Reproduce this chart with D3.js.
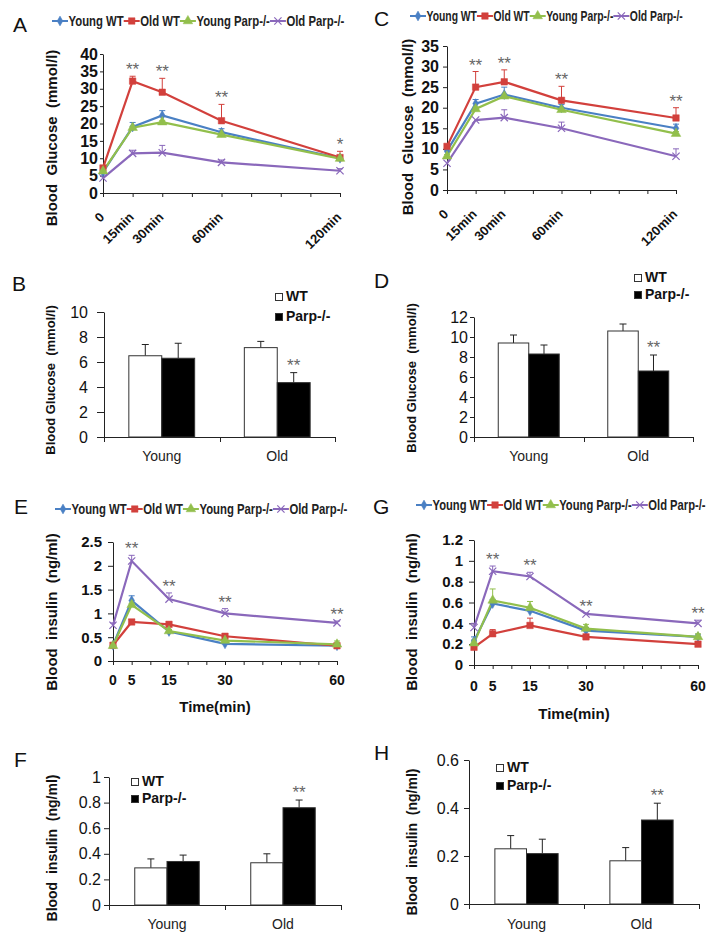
<!DOCTYPE html>
<html><head><meta charset="utf-8">
<script src="https://cdn.jsdelivr.net/npm/d3@7"></script>
<style>
body{margin:0;background:#fff}
svg{display:block}
text{font-family:Arial,"Liberation Sans",sans-serif}
</style>
</head><body>
<svg id="c" width="722" height="945"></svg>
<script>
// ---------------- DATA ----------------
const seriesNames = ["Young WT", "Old WT", "Young Parp-/-", "Old Parp-/-"];
const glucoseTimes = [0, 15, 30, 60, 120];
const glucoseTimeLabels = ["0", "15min", "30min", "60min", "120min"];
const insulinTimes = [0, 5, 15, 30, 60];
const insulinTimeLabels = ["0", "5", "15", "30", "60"];

// Panel A (glucose, time course)
const ticksA = [0, 5, 10, 15, 20, 25, 30, 35, 40];
const aYoungWT = [6.0, 19.0, 22.3, 17.5, 10.0];
const aYoungWTErr = [0, 1.3, 1.4, 1.0, 0.5];
const aOldWT = [7.2, 32.2, 29.0, 20.8, 10.2];
const aOldWTErr = [0, 1.4, 4.0, 4.7, 1.8];
const aYoungParp = [6.3, 18.8, 20.4, 16.8, 9.9];
const aYoungParpErr = [0, 0.4, 0.4, 0.4, 0.4];
const aOldParp = [4.3, 11.4, 11.6, 8.8, 6.4];
const aOldParpErr = [0, 0.9, 2.1, 0.7, 0.6];
const starsA = ["", "**", "**", "**", "*"];

// Panel C (glucose, time course)
const ticksC = [0, 5, 10, 15, 20, 25, 30, 35];
const cYoungWT = [9.5, 21.0, 23.2, 20.0, 15.0];
const cYoungWTErr = [0.5, 1.0, 1.8, 0.8, 1.0];
const cOldWT = [10.6, 25.0, 26.3, 21.8, 17.5];
const cOldWTErr = [0, 3.8, 2.9, 3.4, 2.5];
const cYoungParp = [8.2, 19.7, 22.8, 19.5, 13.7];
const cYoungParpErr = [0.4, 0.5, 0.5, 0.5, 0.5];
const cOldParp = [6.5, 17.0, 17.6, 15.0, 8.2];
const cOldParpErr = [0, 0, 1.9, 1.5, 1.8];
const starsC = ["", "**", "**", "**", "**"];

// Panel E (insulin, time course)
const ticksE = [0, 0.5, 1, 1.5, 2, 2.5];
const eYoungWT = [0.33, 1.27, 0.62, 0.36, 0.32];
const eYoungWTErr = [0, 0.10, 0.03, 0.03, 0.03];
const eOldWT = [0.33, 0.82, 0.77, 0.52, 0.32];
const eOldWTErr = [0.03, 0.05, 0.05, 0.05, 0.03];
const eYoungParp = [0.32, 1.18, 0.63, 0.43, 0.35];
const eYoungParpErr = [0, 0.03, 0.03, 0.03, 0.07];
const eOldParp = [0.75, 2.10, 1.30, 1.00, 0.80];
const eOldParpErr = [0.05, 0.12, 0.13, 0.10, 0.04];
const starsE = ["", "**", "**", "**", "**"];

// Panel G (insulin, time course)
const ticksG = [0, 0.2, 0.4, 0.6, 0.8, 1, 1.2];
const gYoungWT = [0.23, 0.59, 0.52, 0.33, 0.27];
const gYoungWTErr = [0.04, 0.04, 0.03, 0.03, 0.02];
const gOldWT = [0.17, 0.30, 0.38, 0.27, 0.20];
const gOldWTErr = [0.02, 0.04, 0.07, 0.02, 0.02];
const gYoungParp = [0.21, 0.62, 0.55, 0.35, 0.27];
const gYoungParpErr = [0.03, 0.11, 0.06, 0.04, 0.03];
const gOldParp = [0.36, 0.90, 0.85, 0.49, 0.40];
const gOldParpErr = [0.04, 0.05, 0.04, 0.01, 0.03];
const starsG = ["", "**", "**", "**", "**"];

// Bar panels
const barCategories = ["Young", "Old"];
const barGroups = ["WT", "Parp-/-"];
const ticksB = [0, 2, 4, 6, 8, 10];
const bWT = [6.5, 7.15], bWTErr = [0.9, 0.5];
const bParp = [6.3, 4.35], bParpErr = [1.2, 0.8];
const starsB = ["", "**"];
const ticksD = [0, 2, 4, 6, 8, 10, 12];
const dWT = [9.4, 10.6], dWTErr = [0.8, 0.7];
const dParp = [8.3, 6.6], dParpErr = [0.9, 1.6];
const starsD = ["", "**"];
const ticksF = [0, 0.2, 0.4, 0.6, 0.8, 1];
const fWT = [0.29, 0.33], fWTErr = [0.07, 0.07];
const fParp = [0.34, 0.76], fParpErr = [0.05, 0.06];
const starsF = ["", "**"];
const ticksH = [0, 0.2, 0.4, 0.6];
const hWT = [0.23, 0.18], hWTErr = [0.055, 0.055];
const hParp = [0.21, 0.35], hParpErr = [0.06, 0.07];
const starsH = ["", "**"];

// ---------------- STYLE ----------------
const colors = ["#4a80c4", "#d2403c", "#92bf4c", "#8a68bb"];
const shapes = [d3.symbolDiamond, d3.symbolSquare, d3.symbolTriangle, d3.symbolX];
const shapeSizes = [28, 42, 40, 36];

const svg = d3.select("#c");

function mkSeries(vals) {
  return seriesNames.map((n, i) => ({name: n, color: colors[i], shape: shapes[i], size: shapeSizes[i], values: vals[i][0], err: vals[i][1]}));
}

function marker(g, s, cx, cy) {
  const p = g.append("path")
    .attr("d", d3.symbol().type(s.shape).size(s.size)())
    .attr("transform", `translate(${cx},${cy})`);
  if (s.shape === d3.symbolX) p.attr("fill", "none").attr("stroke", s.color).attr("stroke-width", 1.2);
  else p.attr("fill", s.color).attr("stroke", s.color).attr("stroke-width", 0.5);
}

function letter(t, x, y) {
  svg.append("text").attr("x", x).attr("y", y).attr("font-size", 21).attr("fill", "#111").text(t);
}

function yTitle(t, x, y, size) {
  svg.append("text").attr("transform", `translate(${x},${y}) rotate(-90)`)
    .attr("text-anchor", "middle").attr("font-size", size).attr("font-weight", "bold")
    .attr("fill", "#111").style("white-space", "pre").text(t);
}

function drawLinePanel(cfg) {
  const g = svg.append("g");
  letter(cfg.letter, cfg.letterX, cfg.letterY);
  const x = d3.scaleLinear().domain([0, cfg.xMax]).range([cfg.x0, cfg.x1]);
  const y = d3.scaleLinear().domain([0, d3.max(cfg.yTicks)]).range([cfg.yb, cfg.yt]);

  const ya = g.append("g").attr("transform", `translate(${cfg.x0},0)`)
    .call(d3.axisLeft(y).tickValues(cfg.yTicks).tickSize(cfg.yTickSize).tickSizeOuter(0).tickPadding(cfg.yTickPad).tickFormat(d => String(d)));
  ya.selectAll("path,line").attr("stroke", "#222");
  ya.selectAll("text").attr("font-size", cfg.yFont).attr("font-weight", "bold").attr("fill", "#111").attr("font-family", "Arial,'Liberation Sans',sans-serif");

  const xa = g.append("g").attr("transform", `translate(0,${cfg.yb})`)
    .call(d3.axisBottom(x).tickValues(d3.range(0, cfg.xMax + 0.001, cfg.xStep)).tickSize(cfg.xTickSize).tickSizeOuter(0).tickFormat(""));
  xa.selectAll("path,line").attr("stroke", "#222");

  cfg.times.forEach((t, i) => {
    if (cfg.rotate) {
      g.append("text").attr("transform", `translate(${x(t) + 2},${cfg.yb + cfg.xLabelDy}) rotate(-45)`)
        .attr("text-anchor", "end").attr("font-size", 13).attr("font-weight", "bold").attr("fill", "#111")
        .text(cfg.xLabels[i]);
    } else {
      g.append("text").attr("x", x(t)).attr("y", cfg.yb + cfg.xLabelDy)
        .attr("text-anchor", "middle").attr("font-size", 14).attr("font-weight", "bold").attr("fill", "#111")
        .text(cfg.xLabels[i]);
    }
  });
  if (cfg.xTitle) {
    g.append("text").attr("x", cfg.xTitleX).attr("y", cfg.xTitleY).attr("text-anchor", "middle")
      .attr("font-size", 15).attr("font-weight", "bold").attr("fill", "#111").text(cfg.xTitle);
  }
  yTitle(cfg.title, cfg.titleX, cfg.titleY, cfg.titleFont);

  const line = d3.line().x((d, i) => x(cfg.times[i])).y(d => y(d));
  cfg.series.forEach(s => {
    g.append("path").attr("d", line(s.values)).attr("fill", "none").attr("stroke", s.color).attr("stroke-width", 2.2);
  });
  cfg.series.forEach(s => {
    s.values.forEach((v, i) => {
      const e = s.err[i];
      if (!e) return;
      const cx = x(cfg.times[i]);
      g.append("line").attr("x1", cx).attr("x2", cx).attr("y1", y(v)).attr("y2", y(v + e)).attr("stroke", s.color).attr("stroke-width", 1);
      g.append("line").attr("x1", cx - 3).attr("x2", cx + 3).attr("y1", y(v + e)).attr("y2", y(v + e)).attr("stroke", s.color).attr("stroke-width", 1);
    });
  });
  cfg.series.forEach(s => {
    s.values.forEach((v, i) => marker(g, s, x(cfg.times[i]), y(v)));
  });
  cfg.stars.forEach((st, i) => {
    if (!st) return;
    const top = d3.max(cfg.series, s => s.values[i] + (s.err[i] || 0));
    g.append("text").attr("x", x(cfg.times[i])).attr("y", y(top) - 1).attr("text-anchor", "middle")
      .attr("font-size", 17).attr("fill", "#666").text(st);
  });
  // legend (condensed bold text)
  let lx = cfg.legendX;
  const ly = cfg.legendY;
  cfg.series.forEach(s => {
    const seg = 16;
    g.append("line").attr("x1", lx).attr("x2", lx + seg).attr("y1", ly).attr("y2", ly).attr("stroke", s.color).attr("stroke-width", 2);
    marker(g, s, lx + seg / 2, ly);
    const t = g.append("text").attr("x", lx + seg + 0.5).attr("y", ly + 4.5).attr("font-size", 14).attr("font-weight", "bold")
      .attr("fill", "#222").text(s.name);
    const w = t.node().getComputedTextLength() * cfg.legendSquash;
    t.attr("textLength", w).attr("lengthAdjust", "spacingAndGlyphs");
    lx += seg + 0.5 + w;
  });
}

function drawBarPanel(cfg) {
  const g = svg.append("g");
  letter(cfg.letter, cfg.letterX, cfg.letterY);
  const x0 = d3.scaleBand().domain(barCategories).range([cfg.x0, cfg.x1]).paddingInner(1 - cfg.fill).paddingOuter((1 - cfg.fill) / 2);
  const x1 = d3.scaleBand().domain(barGroups).range([0, x0.bandwidth()]);
  const y = d3.scaleLinear().domain([0, d3.max(cfg.yTicks)]).range([cfg.yb, cfg.yt]);

  const ya = g.append("g").attr("transform", `translate(${cfg.x0},0)`)
    .call(d3.axisLeft(y).tickValues(cfg.yTicks).tickSize(cfg.yTickSize).tickSizeOuter(0).tickPadding(cfg.yTickPad).tickFormat(d => String(d)));
  ya.selectAll("path,line").attr("stroke", "#222");
  ya.selectAll("text").attr("font-size", cfg.yFont).attr("fill", "#111").attr("font-family", "Arial,'Liberation Sans',sans-serif");

  const step = (cfg.x1 - cfg.x0) / barCategories.length;
  g.append("line").attr("x1", cfg.x0).attr("x2", cfg.x1).attr("y1", cfg.yb + 0.5).attr("y2", cfg.yb + 0.5).attr("stroke", "#222");
  d3.range(barCategories.length + 1).forEach(i => {
    const tx = Math.round(cfg.x0 + i * step) + 0.5;
    g.append("line").attr("x1", tx).attr("x2", tx).attr("y1", cfg.yb).attr("y2", cfg.yb + 5).attr("stroke", "#222");
  });
  barCategories.forEach(c => {
    g.append("text").attr("x", x0(c) + x0.bandwidth() / 2).attr("y", cfg.catY).attr("text-anchor", "middle")
      .attr("font-size", 14).attr("fill", "#222").text(c);
  });
  yTitle(cfg.title, cfg.titleX, cfg.titleY, cfg.titleFont);

  const groupsData = [[cfg.wt, cfg.wtErr], [cfg.parp, cfg.parpErr]];
  groupsData.forEach((gd, gi) => {
    barCategories.forEach((c, ci) => {
      const bx = x0(c) + x1(barGroups[gi]);
      const v = gd[0][ci], e = gd[1][ci];
      const cx = bx + x1.bandwidth() / 2;
      g.append("line").attr("x1", cx).attr("x2", cx).attr("y1", y(v)).attr("y2", y(v + e)).attr("stroke", "#222").attr("stroke-width", 1);
      g.append("line").attr("x1", cx - 3.5).attr("x2", cx + 3.5).attr("y1", y(v + e)).attr("y2", y(v + e)).attr("stroke", "#222").attr("stroke-width", 1);
      g.append("rect").attr("x", bx).attr("y", y(v)).attr("width", x1.bandwidth()).attr("height", cfg.yb - y(v))
        .attr("fill", gi === 0 ? "#fff" : "#000").attr("stroke", "#333").attr("stroke-width", 1);
    });
  });
  cfg.stars.forEach((st, ci) => {
    if (!st) return;
    const c = barCategories[ci];
    const cx = x0(c) + x1("Parp-/-") + x1.bandwidth() / 2;
    const top = cfg.parp[ci] + cfg.parpErr[ci];
    g.append("text").attr("x", cx).attr("y", y(top) - 2).attr("text-anchor", "middle")
      .attr("font-size", 17).attr("fill", "#666").text(st);
  });
  barGroups.forEach((gname, gi) => {
    const by = cfg.legendY + gi * cfg.legendDy;
    g.append("rect").attr("x", cfg.legendX + 0.5).attr("y", by + 0.5).attr("width", 7).attr("height", 7)
      .attr("fill", gi === 0 ? "#fff" : "#000").attr("stroke", "#333");
    g.append("text").attr("x", cfg.legendX + 11).attr("y", by + 8).attr("font-size", 14).attr("font-weight", "bold")
      .attr("fill", "#111").text(gname);
  });
}

// ---------------- PANELS ----------------
drawLinePanel({
  letter: "A", letterX: 13, letterY: 32,
  x0: 103, x1: 340, yb: 193, yt: 54, yTicks: ticksA, xMax: 120, xStep: 15,
  times: glucoseTimes, xLabels: glucoseTimeLabels, rotate: true, xLabelDy: 25,
  yTickSize: 3, yTickPad: 2, yFont: 16, xTickSize: 4,
  title: "Blood  Glucose  (mmol/l)", titleX: 57, titleY: 138, titleFont: 15,
  legendX: 52, legendY: 21, legendSquash: 0.81,
  series: mkSeries([[aYoungWT, aYoungWTErr], [aOldWT, aOldWTErr], [aYoungParp, aYoungParpErr], [aOldParp, aOldParpErr]]),
  stars: starsA
});
drawLinePanel({
  letter: "C", letterX: 374, letterY: 26,
  x0: 447, x1: 676, yb: 190, yt: 46, yTicks: ticksC, xMax: 120, xStep: 15,
  times: glucoseTimes, xLabels: glucoseTimeLabels, rotate: true, xLabelDy: 25,
  yTickSize: 4, yTickPad: 4, yFont: 16, xTickSize: 4,
  title: "Blood  Glucose  (mmol/l)", titleX: 413, titleY: 127, titleFont: 15,
  legendX: 410, legendY: 16, legendSquash: 0.74,
  series: mkSeries([[cYoungWT, cYoungWTErr], [cOldWT, cOldWTErr], [cYoungParp, cYoungParpErr], [cOldParp, cOldParpErr]]),
  stars: starsC
});
drawLinePanel({
  letter: "E", letterX: 14, letterY: 514,
  x0: 113, x1: 337, yb: 661, yt: 542, yTicks: ticksE, xMax: 60, xStep: 5,
  times: insulinTimes, xLabels: insulinTimeLabels, rotate: false, xLabelDy: 24,
  yTickSize: 5, yTickPad: 6, yFont: 15, xTickSize: 4,
  xTitle: "Time(min)", xTitleX: 215, xTitleY: 712,
  title: "Blood  insulin  (ng/ml)", titleX: 57, titleY: 612, titleFont: 15,
  legendX: 55, legendY: 509, legendSquash: 0.81,
  series: mkSeries([[eYoungWT, eYoungWTErr], [eOldWT, eOldWTErr], [eYoungParp, eYoungParpErr], [eOldParp, eOldParpErr]]),
  stars: starsE
});
drawLinePanel({
  letter: "G", letterX: 373, letterY: 514,
  x0: 474, x1: 698, yb: 665, yt: 540, yTicks: ticksG, xMax: 60, xStep: 5,
  times: insulinTimes, xLabels: insulinTimeLabels, rotate: false, xLabelDy: 26,
  yTickSize: 5, yTickPad: 6, yFont: 15, xTickSize: 4,
  xTitle: "Time(min)", xTitleX: 574, xTitleY: 719,
  title: "Blood  insulin  (ng/ml)", titleX: 417, titleY: 612, titleFont: 15,
  legendX: 416, legendY: 505, legendSquash: 0.8,
  series: mkSeries([[gYoungWT, gYoungWTErr], [gOldWT, gOldWTErr], [gYoungParp, gYoungParpErr], [gOldParp, gOldParpErr]]),
  stars: starsG
});

drawBarPanel({
  letter: "B", letterX: 12, letterY: 291,
  x0: 104, x1: 335, yb: 437, yt: 312, yTicks: ticksB, fill: 0.57,
  yTickSize: 7, yTickPad: 9, yFont: 16, catY: 461,
  title: "Blood Glucose  (mmol/l)", titleX: 55, titleY: 380, titleFont: 13,
  wt: bWT, wtErr: bWTErr, parp: bParp, parpErr: bParpErr, stars: starsB,
  legendX: 275, legendY: 293, legendDy: 20
});
drawBarPanel({
  letter: "D", letterX: 374, letterY: 288,
  x0: 474, x1: 693, yb: 437, yt: 317, yTicks: ticksD, fill: 0.557,
  yTickSize: 4, yTickPad: 2, yFont: 16, catY: 461,
  title: "Blood Glucose  (mmol/l)", titleX: 416, titleY: 378, titleFont: 13,
  wt: dWT, wtErr: dWTErr, parp: dParp, parpErr: dParpErr, stars: starsD,
  legendX: 634, legendY: 274, legendDy: 17
});
drawBarPanel({
  letter: "F", letterX: 14, letterY: 767,
  x0: 109, x1: 341, yb: 905, yt: 777, yTicks: ticksF, fill: 0.556,
  yTickSize: 5, yTickPad: 3, yFont: 16, catY: 929,
  title: "Blood  insulin  (ng/ml)", titleX: 57, titleY: 848, titleFont: 14,
  wt: fWT, wtErr: fWTErr, parp: fParp, parpErr: fParpErr, stars: starsF,
  legendX: 131, legendY: 778, legendDy: 17
});
drawBarPanel({
  letter: "H", letterX: 374, letterY: 760,
  x0: 469, x1: 699, yb: 904, yt: 760, yTicks: ticksH, fill: 0.55,
  yTickSize: 5, yTickPad: 5, yFont: 16, catY: 929,
  title: "Blood  insulin  (ng/ml)", titleX: 417, titleY: 842, titleFont: 14,
  wt: hWT, wtErr: hWTErr, parp: hParp, parpErr: hParpErr, stars: starsH,
  legendX: 496, legendY: 764, legendDy: 18
});
</script>
</body></html>
